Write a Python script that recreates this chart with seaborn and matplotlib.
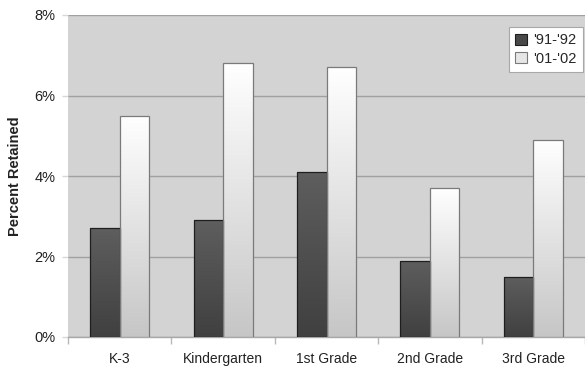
import numpy as np
import pandas as pd
import matplotlib
matplotlib.use("Agg")
import matplotlib.pyplot as plt
from matplotlib.patches import Patch
from matplotlib.colors import LinearSegmentedColormap
import seaborn as sns

# Retention rates by grade for two school years (percent)
grades = ["K-3", "Kindergarten", "1st Grade", "2nd Grade", "3rd Grade"]
years = ["'91-'92", "'01-'02"]
rate_91_92 = [2.7, 2.9, 4.1, 1.9, 1.5]
rate_01_02 = [5.5, 6.8, 6.7, 3.7, 4.9]
y_ticks = [0, 2, 4, 6, 8]
y_tick_labels = ["0%", "2%", "4%", "6%", "8%"]

df = pd.DataFrame({
    "Grade": grades * 2,
    "Year": [years[0]] * len(grades) + [years[1]] * len(grades),
    "Rate": rate_91_92 + rate_01_02,
})

sns.set_theme(style="white")
plt.rcParams["font.family"] = ["Liberation Sans", "DejaVu Sans"]

fig = plt.figure(figsize=(5.85, 3.74), dpi=100)
ax = fig.add_axes([68 / 585, 37 / 374, 517 / 585, 322 / 374])
ax.set_facecolor("#d3d3d3")

palette = {years[0]: "#4c4c4c", years[1]: "#f0f0f0"}
sns.barplot(data=df, x="Grade", y="Rate", hue="Year", order=grades,
            hue_order=years, palette=palette, width=0.57, gap=0,
            saturation=1, ax=ax, legend=False, zorder=3)

# Vertical gradient fills for each series
dark_cmap = LinearSegmentedColormap.from_list("dark", ["#404040", "#5e5e5e"])
light_cmap = LinearSegmentedColormap.from_list("light", ["#c6c6c6", "#ffffff"])
grad = np.linspace(0, 1, 256).reshape(-1, 1)

n = len(grades)
for i, bar in enumerate(ax.patches[: 2 * n]):
    dark = i < n
    x, w, h = bar.get_x(), bar.get_width(), bar.get_height()
    bar.set_edgecolor("#1e1e1e" if dark else "#7a7a7a")
    bar.set_linewidth(0.9)
    im = ax.imshow(grad, extent=[x, x + w, 0, h], origin="lower",
                   cmap=dark_cmap if dark else light_cmap, aspect="auto",
                   zorder=3.5)
    im.set_clip_path(bar)
    bar.set_facecolor("none")
    bar.set_zorder(4)

ax.set_xlim(-0.5, n - 0.5)
ax.set_ylim(0, 8)
ax.set_yticks(y_ticks)
ax.set_yticklabels(y_tick_labels)
ax.xaxis.grid(False)
ax.yaxis.grid(True, color="#a0a0a0", linewidth=1.0, zorder=1)
ax.set_axisbelow(True)

for side in ["left", "right", "top"]:
    ax.spines[side].set_visible(False)
ax.spines["bottom"].set_color("#a8a8a8")
ax.spines["bottom"].set_linewidth(1.0)

# Tick marks sit on the boundaries between categories
ax.set_xticks(np.arange(n))
ax.set_xticklabels(grades)
ax.set_xticks(np.arange(n + 1) - 0.5, minor=True)
ax.tick_params(axis="x", which="major", length=0, pad=11,
               labelsize=10, labelcolor="#222222")
ax.tick_params(axis="x", which="minor", length=5, width=1.0,
               color="#b8b8b8", direction="out", bottom=True)
ax.tick_params(axis="y", length=4, width=1.0, color="#d8d8d8",
               direction="out", left=True, pad=5, labelsize=10.5,
               labelcolor="#222222")

ax.set_xlabel("")
ax.set_ylabel("Percent Retained", fontsize=10.5, fontweight="bold",
              color="#222222", labelpad=9)

handles = [
    Patch(facecolor="#484848", edgecolor="#1e1e1e", linewidth=0.8),
    Patch(facecolor="#e6e6e6", edgecolor="#7a7a7a", linewidth=0.8),
]
leg = ax.legend(handles, years, loc="upper right",
                bbox_to_anchor=(0.996, 0.963), frameon=True, fancybox=False,
                framealpha=1, edgecolor="#a8a8a8", fontsize=10.5,
                handlelength=0.8, handleheight=0.8, handletextpad=0.4,
                borderpad=0.45, labelspacing=0.3, borderaxespad=0)
leg.get_frame().set_linewidth(0.8)
leg.set_zorder(10)

fig.savefig("out.png", dpi=100, facecolor="white")
